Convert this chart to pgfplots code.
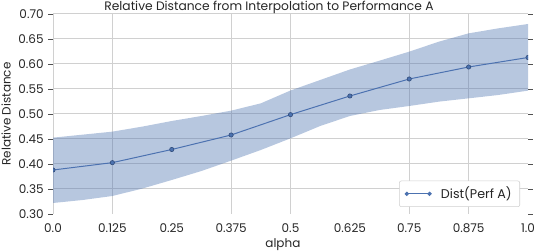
\documentclass[border=0pt]{standalone}
\usepackage{pgfplots}
\pgfplotsset{compat=1.18}
\usepackage{fontspec}
\setmainfont{Poppins}
\definecolor{sbblue}{HTML}{4C72B0}
\definecolor{sbdark}{HTML}{34507F}
\definecolor{gridc}{HTML}{D0D0D0}
\definecolor{txt}{HTML}{262626}
\begin{document}
\begin{tikzpicture}
\useasboundingbox (0,0) rectangle (403.5pt,189pt);
\begin{axis}[
  at={(39.75pt,28.5pt)}, anchor=south west,
  scale only axis, width=356.25pt, height=150pt,
  xmin=0, xmax=1, ymin=0.3, ymax=0.7,
  axis line style={draw=none},
  clip marker paths=true,
  tick align=outside,
  xtick pos=bottom, ytick pos=both,
  xtick={0,0.125,0.25,0.375,0.5,0.625,0.75,0.875,1},
  xticklabels={0.0,0.125,0.25,0.375,0.5,0.625,0.75,0.875,1.0},
  x tick style={draw=none},
  extra x ticks={0,0.125,0.375,0.5,0.75,0.875},
  extra x tick labels={},
  extra x tick style={grid=major, tick style={draw=gridc, line width=0.75pt}, major tick length=3.5pt},
  ytick={0.35,0.40,0.45,0.50,0.55,0.60,0.65,0.70},
  yticklabels={0.35,0.40,0.45,0.50,0.55,0.60,0.65,0.70},
  extra y ticks={0.30},
  extra y tick labels={0.30},
  extra y tick style={grid=none},
  ymajorgrids,
  major grid style={draw=gridc, line width=0.75pt},
  y tick style={draw=txt!80, line width=0.6pt},
  major tick length=3.5pt,
  ticklabel style={font=\fontsize{9}{10}\selectfont, text=txt},
  xlabel={alpha}, ylabel={Relative Distance},
  every axis x label/.style={at={(axis description cs:0.484,-0.155)}, anchor=center, font=\fontsize{9}{10}\selectfont, text=txt},
  every axis y label/.style={at={(axis description cs:-0.0989,0.5)}, anchor=center, rotate=90, font=\fontsize{9}{10}\selectfont, text=txt},
  title={Relative Distance from Interpolation to Performance A},
  every axis title/.style={at={(axis description cs:0.4547,1)}, anchor=base, yshift=2.5pt, font=\fontsize{9.2}{10}\selectfont, text=txt},
  legend style={at={(axis description cs:1,0)}, anchor=south east, xshift=-6pt, yshift=5.25pt,
    draw=gridc, fill=white, rounded corners=1.5pt, font=\fontsize{9.5}{10}\selectfont, text=txt,
    inner xsep=4pt, inner ysep=2.5pt,
    /tikz/every odd column/.append style={column sep=5pt}},
  legend cell align=left,
  legend image code/.code={
    \draw[sbblue, line width=0.7pt] (0pt,0pt) -- (17pt,0pt);
    \fill[sbblue] (0pt,0pt) circle (1.2pt) (17pt,0pt) circle (1.2pt);
  },
]
\addplot[fill=sbblue, fill opacity=0.4, draw=none, forget plot] coordinates {
(0,0.4527) (0.0625,0.4587) (0.125,0.4647) (0.1875,0.4747) (0.25,0.486)
(0.3125,0.496) (0.375,0.5067) (0.4375,0.5213) (0.5,0.547) (0.5625,0.568)
(0.625,0.589) (0.6875,0.6067) (0.75,0.6247) (0.8125,0.6447) (0.875,0.6613)
(0.9375,0.6713) (1.0,0.680)
(1.0,0.5467) (0.9375,0.538) (0.875,0.5313) (0.8125,0.5247) (0.75,0.516)
(0.6875,0.508) (0.625,0.496) (0.5625,0.476) (0.5,0.4513) (0.4375,0.428)
(0.375,0.4067) (0.3125,0.386) (0.25,0.368) (0.1875,0.3507) (0.125,0.336)
(0.0625,0.328) (0,0.322)
} -- cycle;
\addplot[color=sbblue, line width=0.75pt, mark=*, mark size=1.6pt,
  mark options={fill=sbblue, draw=sbdark, line width=0.5pt}] coordinates {
(0,0.388) (0.125,0.4027) (0.25,0.429) (0.375,0.458) (0.5,0.4987)
(0.625,0.536) (0.75,0.570) (0.875,0.594) (1.0,0.613)
};
\addlegendentry{Dist(Perf A)}
\end{axis}
\end{tikzpicture}
\end{document}
